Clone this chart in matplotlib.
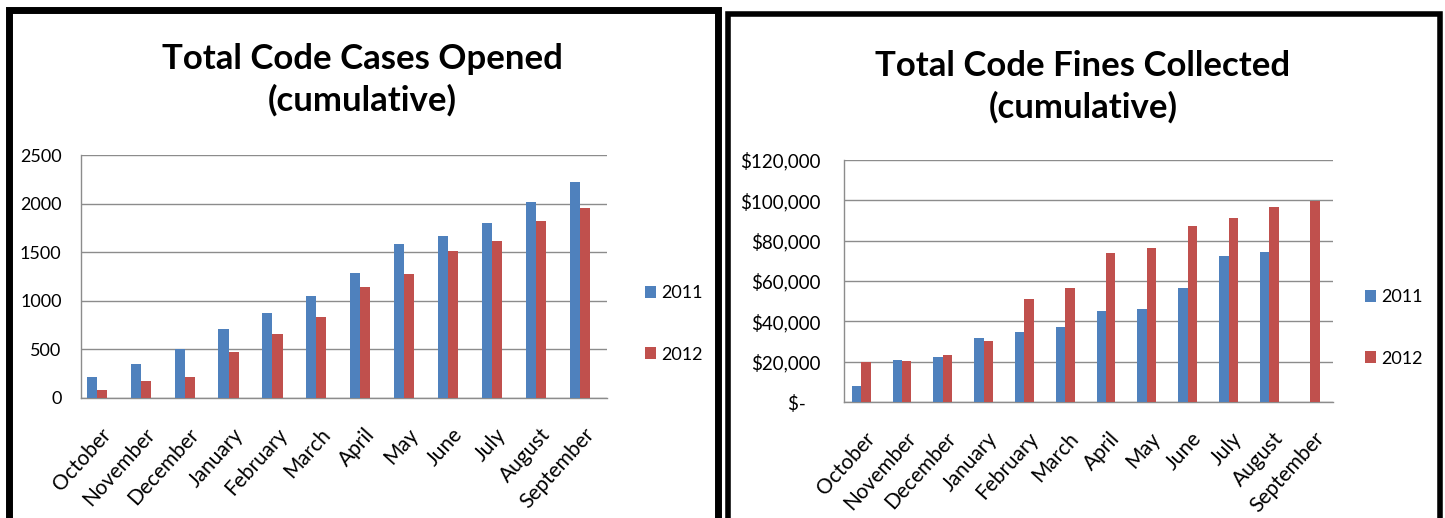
import numpy as np
import matplotlib
matplotlib.use("Agg")
import matplotlib.pyplot as plt
from matplotlib.patches import Rectangle
from matplotlib.ticker import FuncFormatter, MultipleLocator

plt.rcParams['font.family'] = ['Lato', 'DejaVu Sans']

months = ["October", "November", "December", "January", "February", "March",
          "April", "May", "June", "July", "August", "September"]
series_names = ["2011", "2012"]

# Code cases opened, cumulative counts
cases_2011 = [216, 353, 500, 705, 873, 1048, 1284, 1582, 1671, 1798, 2014, 2226]
cases_2012 = [86, 175, 216, 469, 661, 832, 1137, 1274, 1514, 1616, 1822, 1955]

# Code fines collected, cumulative dollars (no September 2011 figure)
fines_2011 = [8100, 20800, 22300, 31500, 34700, 37400, 44900, 46000, 56400, 72300, 74300, np.nan]
fines_2012 = [19800, 20100, 23300, 30400, 51000, 56400, 73800, 76600, 87100, 91400, 96900, 99800]

BLUE = "#4F81BD"
RED = "#C0504D"
GRID = "#8C8C8C"

W, H = 1445, 518
fig = plt.figure(figsize=(W / 100, H / 100), dpi=100)


def fx(px):
    return px / W


def fy(py):
    return 1 - py / H


def draw_panel(rect, title, title_xy, v1, v2, ymax, ystep, fmt, legend_xy, label_pad, xmin):
    ax = fig.add_axes(rect)
    x = np.arange(len(months))
    w = 0.23
    ax.bar(x - w / 2, v1, w, color=BLUE, label=series_names[0], zorder=3)
    ax.bar(x + w / 2, v2, w, color=RED, label=series_names[1], zorder=3)
    ax.set_xlim(xmin, xmin + 11.98)
    ax.set_ylim(0, ymax)
    ax.yaxis.set_major_locator(MultipleLocator(ystep))
    ax.yaxis.set_major_formatter(FuncFormatter(fmt))
    ax.grid(axis='y', color=GRID, linewidth=1.0, zorder=0)
    ax.set_axisbelow(True)
    for s in ("top", "right"):
        ax.spines[s].set_visible(False)
    for s in ("left", "bottom"):
        ax.spines[s].set_color(GRID)
        ax.spines[s].set_linewidth(1.0)
    ax.set_xticks(x + 0.25)
    ax.set_xticklabels(months, rotation=48, ha='right', va='center',
                       rotation_mode='anchor', fontsize=15)
    ax.tick_params(axis='x', length=0, pad=label_pad)
    ax.tick_params(axis='y', length=0, pad=14, labelsize=13)
    fig.text(title_xy[0], title_xy[1], title, ha='center', va='center',
             fontsize=25, fontweight='bold', linespacing=1.35)
    ax.legend(loc='center left', bbox_to_anchor=legend_xy,
              bbox_transform=fig.transFigure, frameon=False, fontsize=13,
              handlelength=0.6, handleheight=0.6, handletextpad=0.3,
              labelspacing=2.5, borderpad=0, borderaxespad=0)
    return ax


def fmt_cases(v, pos):
    return f"{int(round(v))}"


def fmt_money(v, pos):
    if abs(v) < 1:
        return "$-   "
    return f"${int(round(v)):,}"


ax1 = draw_panel([fx(81), fy(398), fx(526), 243 / H],
                 "Total Code Cases Opened\n(cumulative)", (fx(362), fy(80)),
                 cases_2011, cases_2012, 2500, 500, fmt_cases,
                 (fx(645), fy(324)), 24, -0.36)

ax2 = draw_panel([fx(844), fy(402), fx(489), 242 / H],
                 "Total Code Fines Collected\n(cumulative)", (fx(1083), fy(87)),
                 fines_2011, fines_2012, 120000, 20000, fmt_money,
                 (fx(1365), fy(328)), 24, -0.42)
ax2.tick_params(axis='y', pad=17, labelsize=13.5)

# Black panel frames
fig.patches.append(Rectangle((fx(8.5), -0.05), fx(709), fy(10) + 0.05,
                             transform=fig.transFigure, fill=False,
                             edgecolor='black', linewidth=5.0, clip_on=False))
fig.patches.append(Rectangle((fx(728.5), -0.05), fx(711.5), fy(13.5) + 0.05,
                             transform=fig.transFigure, fill=False,
                             edgecolor='black', linewidth=4.0, clip_on=False))

fig.savefig("out.png", dpi=100)
